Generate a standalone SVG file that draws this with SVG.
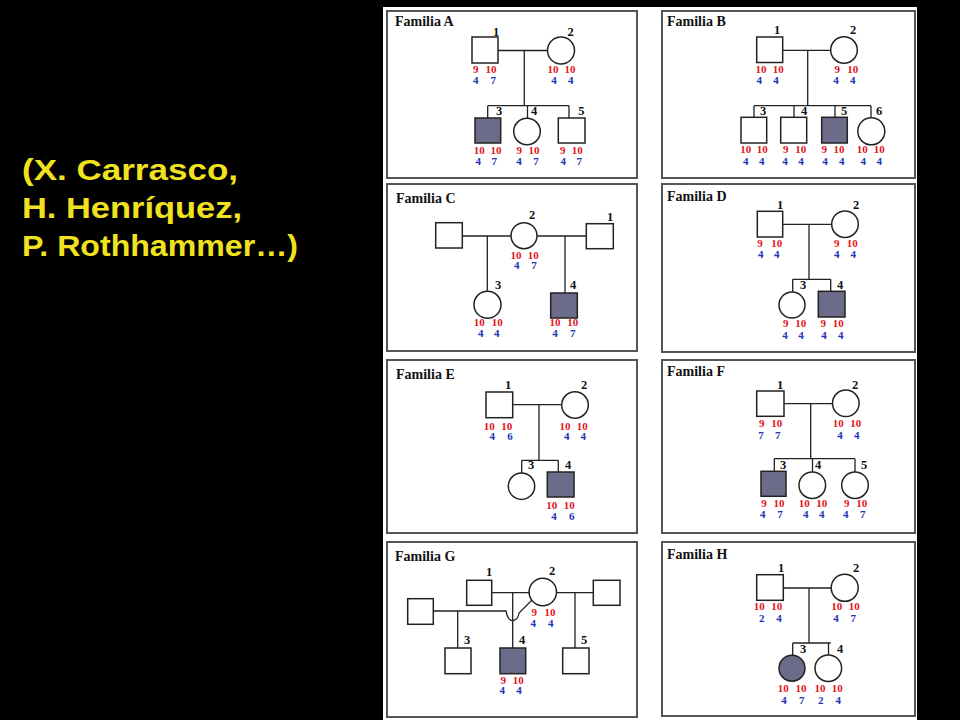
<svg xmlns="http://www.w3.org/2000/svg" width="960" height="720" viewBox="0 0 960 720">
<style>
.panel{fill:#fff;stroke:#555;stroke-width:2}
.ttl{font-family:"Liberation Serif",serif;font-weight:bold;font-size:14px;fill:#111}
.nm{font-family:"Liberation Serif",serif;font-weight:bold;font-size:12.5px;fill:#111;text-anchor:middle}
.r{font-family:"Liberation Serif",serif;font-weight:bold;font-size:11px;fill:#e3131b;text-anchor:middle}
.b{font-family:"Liberation Serif",serif;font-weight:bold;font-size:11px;fill:#2233b5;text-anchor:middle}
.ind{fill:#fff;stroke:#222;stroke-width:1.5}
.aff{fill:#6c6c8a;stroke:#222;stroke-width:1.5}
.ln{stroke:#222;stroke-width:1.3;fill:none}
.auth{font-family:"Liberation Sans",Arial,sans-serif;font-weight:bold;font-size:29px;fill:#f0e21e}
</style>
<rect x="0" y="0" width="960" height="720" fill="#000"/>
<g id="authors">
<text class="auth" x="22" y="180" textLength="216" lengthAdjust="spacingAndGlyphs">(X. Carrasco,</text>
<text class="auth" x="22" y="218" textLength="220" lengthAdjust="spacingAndGlyphs">H. Henríquez,</text>
<text class="auth" x="22" y="256" textLength="276" lengthAdjust="spacingAndGlyphs">P. Rothhammer…)</text>
</g>
<rect x="383" y="7" width="534" height="713" fill="#fff"/>
<g id="panels">
<rect class="panel" x="387" y="11" width="250" height="167"/>
<rect class="panel" x="662" y="11" width="253" height="167"/>
<rect class="panel" x="387" y="184" width="250" height="167"/>
<rect class="panel" x="662" y="184" width="253" height="168"/>
<rect class="panel" x="387" y="360" width="250" height="173"/>
<rect class="panel" x="662" y="360" width="253" height="173"/>
<rect class="panel" x="387" y="542" width="250" height="175"/>
<rect class="panel" x="662" y="542" width="253" height="174"/>
<text class="ttl" x="395" y="26">Familia A</text>
<text class="ttl" x="667" y="26">Familia B</text>
<text class="ttl" x="396" y="202.5">Familia C</text>
<text class="ttl" x="667" y="201">Familia D</text>
<text class="ttl" x="396" y="378.5">Familia E</text>
<text class="ttl" x="667" y="375.5">Familia F</text>
<text class="ttl" x="395" y="561">Familia G</text>
<text class="ttl" x="667" y="558.5">Familia H</text>
</g>
<g id="connectors" class="ln">
<path d="M498,50.5 H547.5 M524.3,50.5 V105.7 M487.7,105.7 H569 M487.7,105.7 V118 M527.5,105.7 V118 M569,105.7 V118"/>
<path d="M782.7,50.3 H830.7 M807.7,50.3 V105.7 M754,105.7 H871 M754,105.7 V117.3 M794,105.7 V117.3 M835,105.7 V117.3 M871,105.7 V117.8"/>
<path d="M462.3,236 H511 M487.3,236 V291.3 M537,236 H586.3 M565,236 V293"/>
<path d="M782.7,224.3 H831.7 M809,224.3 V279.3 M792.7,279.3 H830.7 M792.7,279.3 V292 M830.7,279.3 V291.3"/>
<path d="M512.7,404.7 H561.7 M539,404.7 V460.3 M521.7,460.3 H558.3 M521.7,460.3 V473 M558.3,460.3 V472"/>
<path d="M784,403.7 H832.5 M810.7,403.7 V458.7 M774.3,458.7 H855 M774.3,458.7 V471.3 M812.5,458.7 V472 M855,458.7 V472"/>
<path d="M491.7,592.7 H529.1 M512.7,592.7 V648 M556.5,592.7 H593.3 M575,592.7 V648 M457.7,611 V648"/>
<path d="M433.3,611 H506 Q508,621 513,620.5 Q518,620 519,613 L532,600"/>
<path d="M783.3,588 H831.2 M809,588 V643 M792.7,643 H830.7 M792.7,643 V655.2 M828.5,643 V655"/>
</g>
<g id="A1"><rect class="ind" x="472" y="37" width="26" height="26"/><text class="nm" x="496" y="36">1</text>
<text class="r" x="475.7" y="73">9</text><text class="r" x="491" y="73">10</text><text class="b" x="475.7" y="84">4</text><text class="b" x="493.3" y="84">7</text></g>
<g id="A2"><circle class="ind" cx="561" cy="50.5" r="13.5"/><text class="nm" x="570.5" y="36">2</text>
<text class="r" x="553" y="73">10</text><text class="r" x="570" y="73">10</text><text class="b" x="554" y="84">4</text><text class="b" x="570.7" y="84">4</text></g>
<g id="A3"><rect class="aff" x="475" y="118" width="25.7" height="25"/><text class="nm" x="499.2" y="115">3</text>
<text class="r" x="479.3" y="154">10</text><text class="r" x="496" y="154">10</text><text class="b" x="478.3" y="164.7">4</text><text class="b" x="494.3" y="164.7">7</text></g>
<g id="A4"><circle class="ind" cx="527" cy="131.5" r="13.3"/><text class="nm" x="534.2" y="115">4</text>
<text class="r" x="519.3" y="154">9</text><text class="r" x="534" y="154">10</text><text class="b" x="519" y="164.7">4</text><text class="b" x="536" y="164.7">7</text></g>
<g id="A5"><rect class="ind" x="558.3" y="118" width="26.7" height="25"/><text class="nm" x="581.3" y="115">5</text>
<text class="r" x="562.7" y="154">9</text><text class="r" x="577.3" y="154">10</text><text class="b" x="563.3" y="164.7">4</text><text class="b" x="579.3" y="164.7">7</text></g>
<g id="B1"><rect class="ind" x="756.7" y="37" width="26" height="25.5"/><text class="nm" x="777" y="34">1</text>
<text class="r" x="761" y="73">10</text><text class="r" x="778.3" y="73">10</text><text class="b" x="759.3" y="84">4</text><text class="b" x="776" y="84">4</text></g>
<g id="B2"><circle class="ind" cx="844" cy="50" r="13.3"/><text class="nm" x="853" y="34">2</text>
<text class="r" x="837.3" y="73">9</text><text class="r" x="852.7" y="73">10</text><text class="b" x="836" y="84">4</text><text class="b" x="852.7" y="84">4</text></g>
<g id="B3"><rect class="ind" x="741" y="117.3" width="25.7" height="25.7"/><text class="nm" x="763" y="114.7">3</text>
<text class="r" x="745.7" y="153">10</text><text class="r" x="762.3" y="153">10</text><text class="b" x="745.7" y="164.7">4</text><text class="b" x="761.7" y="164.7">4</text></g>
<g id="B4"><rect class="ind" x="780.7" y="117.3" width="26" height="25.7"/><text class="nm" x="804" y="114.7">4</text>
<text class="r" x="785.7" y="153">9</text><text class="r" x="800.7" y="153">10</text><text class="b" x="785" y="164.7">4</text><text class="b" x="801" y="164.7">4</text></g>
<g id="B5"><rect class="aff" x="821.7" y="117.3" width="25.6" height="25.7"/><text class="nm" x="844" y="114.7">5</text>
<text class="r" x="824.3" y="153">9</text><text class="r" x="839" y="153">10</text><text class="b" x="825" y="164.7">4</text><text class="b" x="841.7" y="164.7">4</text></g>
<g id="B6"><circle class="ind" cx="871.3" cy="131.3" r="13.5"/><text class="nm" x="879" y="114.7">6</text>
<text class="r" x="862.3" y="153">10</text><text class="r" x="879.3" y="153">10</text><text class="b" x="863.3" y="164.7">4</text><text class="b" x="879.3" y="164.7">4</text></g>
<g id="C0a"><rect class="ind" x="435.7" y="222.7" width="26.6" height="25.3"/></g>
<g id="C2"><circle class="ind" cx="524" cy="235.7" r="13"/><text class="nm" x="532" y="219.3">2</text>
<text class="r" x="516" y="258.7">10</text><text class="r" x="533.3" y="258.7">10</text><text class="b" x="516.7" y="269.2">4</text><text class="b" x="534" y="269.2">7</text></g>
<g id="C1"><rect class="ind" x="586.3" y="223.7" width="27" height="25"/><text class="nm" x="610" y="221.3">1</text></g>
<g id="C3"><circle class="ind" cx="487.5" cy="304.7" r="13.5"/><text class="nm" x="498" y="288.7">3</text>
<text class="r" x="479.3" y="326.3">10</text><text class="r" x="497.3" y="326.3">10</text><text class="b" x="480.7" y="337">4</text><text class="b" x="496.7" y="337">4</text></g>
<g id="C4"><rect class="aff" x="550.7" y="293" width="26.6" height="25"/><text class="nm" x="573" y="288.7">4</text>
<text class="r" x="555" y="326.3">10</text><text class="r" x="572.7" y="326.3">10</text><text class="b" x="555" y="337">4</text><text class="b" x="572.7" y="337">7</text></g>
<g id="D1"><rect class="ind" x="757.3" y="211.3" width="25.4" height="25.7"/><text class="nm" x="780" y="208.7">1</text>
<text class="r" x="760" y="247">9</text><text class="r" x="776.7" y="247">10</text><text class="b" x="760.7" y="258">4</text><text class="b" x="776.7" y="258">4</text></g>
<g id="D2"><circle class="ind" cx="845" cy="224.2" r="13.3"/><text class="nm" x="856" y="208.7">2</text>
<text class="r" x="836.7" y="247">9</text><text class="r" x="852.3" y="247">10</text><text class="b" x="836.7" y="258">4</text><text class="b" x="853.3" y="258">4</text></g>
<g id="D3"><circle class="ind" cx="792" cy="305" r="13"/><text class="nm" x="803" y="289.3">3</text>
<text class="r" x="785.7" y="327">9</text><text class="r" x="800.7" y="327">10</text><text class="b" x="785" y="338.7">4</text><text class="b" x="801" y="338.7">4</text></g>
<g id="D4"><rect class="aff" x="818.3" y="291.3" width="26.7" height="25.7"/><text class="nm" x="840" y="289.3">4</text>
<text class="r" x="823.3" y="327">9</text><text class="r" x="838.3" y="327">10</text><text class="b" x="824" y="338.7">4</text><text class="b" x="840.7" y="338.7">4</text></g>
<g id="E1"><rect class="ind" x="486" y="392" width="26.7" height="25.7"/><text class="nm" x="508" y="389.3">1</text>
<text class="r" x="489.3" y="429.7">10</text><text class="r" x="506.7" y="429.7">10</text><text class="b" x="492.3" y="440.3">4</text><text class="b" x="510" y="440.3">6</text></g>
<g id="E2"><circle class="ind" cx="575" cy="405" r="13.3"/><text class="nm" x="584" y="389.3">2</text>
<text class="r" x="565" y="429.7">10</text><text class="r" x="582.3" y="429.7">10</text><text class="b" x="566.7" y="440.3">4</text><text class="b" x="583.3" y="440.3">4</text></g>
<g id="E3"><circle class="ind" cx="521.5" cy="486.2" r="13.2"/><text class="nm" x="531" y="469.3">3</text></g>
<g id="E4"><rect class="aff" x="547.3" y="472" width="26.7" height="25"/><text class="nm" x="568" y="469.3">4</text>
<text class="r" x="551.7" y="508.7">10</text><text class="r" x="569.3" y="508.7">10</text><text class="b" x="554" y="520.3">4</text><text class="b" x="571.7" y="520.3">6</text></g>
<g id="F1"><rect class="ind" x="756.7" y="391" width="27.3" height="25.3"/><text class="nm" x="780" y="388.7">1</text>
<text class="r" x="761.7" y="427">9</text><text class="r" x="776.7" y="427">10</text><text class="b" x="761" y="438.7">7</text><text class="b" x="777.7" y="438.7">7</text></g>
<g id="F2"><circle class="ind" cx="845.8" cy="403.3" r="13.3"/><text class="nm" x="855" y="388.7">2</text>
<text class="r" x="838.3" y="427">10</text><text class="r" x="855.7" y="427">10</text><text class="b" x="840" y="438.7">4</text><text class="b" x="856.7" y="438.7">4</text></g>
<g id="F3"><rect class="aff" x="761" y="471.3" width="25" height="25"/><text class="nm" x="783" y="468.7">3</text>
<text class="r" x="764" y="507">9</text><text class="r" x="779" y="507">10</text><text class="b" x="762.7" y="517.5">4</text><text class="b" x="780" y="517.5">7</text></g>
<g id="F4"><circle class="ind" cx="812.3" cy="485.2" r="13.3"/><text class="nm" x="818" y="468.7">4</text>
<text class="r" x="804.3" y="507">10</text><text class="r" x="821.7" y="507">10</text><text class="b" x="805.7" y="517.5">4</text><text class="b" x="821.7" y="517.5">4</text></g>
<g id="F5"><circle class="ind" cx="855" cy="485.2" r="13.3"/><text class="nm" x="864" y="468.7">5</text>
<text class="r" x="846.7" y="507">9</text><text class="r" x="861.7" y="507">10</text><text class="b" x="845.7" y="517.5">4</text><text class="b" x="862.7" y="517.5">7</text></g>
<g id="G0a"><rect class="ind" x="407.7" y="598.7" width="25.6" height="25.6"/></g>
<g id="G1"><rect class="ind" x="466.7" y="580.3" width="25" height="25"/><text class="nm" x="489" y="576.3">1</text></g>
<g id="G2"><circle class="ind" cx="542.8" cy="592" r="13.7"/><text class="nm" x="552" y="575.3">2</text>
<text class="r" x="534.3" y="616.3">9</text><text class="r" x="550" y="616.3">10</text><text class="b" x="533.3" y="626.8">4</text><text class="b" x="550.7" y="626.8">4</text></g>
<g id="G0b"><rect class="ind" x="593.3" y="580.3" width="26.7" height="25"/></g>
<g id="G3"><rect class="ind" x="445" y="648" width="26" height="25.7"/><text class="nm" x="467" y="644.3">3</text></g>
<g id="G4"><rect class="aff" x="500" y="648" width="25.7" height="25.7"/><text class="nm" x="522" y="644.3">4</text>
<text class="r" x="503.3" y="683.7">9</text><text class="r" x="518.3" y="683.7">10</text><text class="b" x="502.3" y="694.3">4</text><text class="b" x="519" y="694.3">4</text></g>
<g id="G5"><rect class="ind" x="562.7" y="648" width="26.3" height="25.7"/><text class="nm" x="584" y="644.3">5</text></g>
<g id="H1"><rect class="ind" x="756.7" y="574.7" width="26.6" height="25.6"/><text class="nm" x="781" y="572">1</text>
<text class="r" x="759.3" y="610.3">10</text><text class="r" x="776.7" y="610.3">10</text><text class="b" x="761.7" y="622">2</text><text class="b" x="779" y="622">4</text></g>
<g id="H2"><circle class="ind" cx="844.7" cy="587.8" r="13.5"/><text class="nm" x="856" y="572">2</text>
<text class="r" x="836.7" y="610.3">10</text><text class="r" x="854.3" y="610.3">10</text><text class="b" x="836" y="622">4</text><text class="b" x="853.3" y="622">7</text></g>
<g id="H3"><circle class="aff" cx="792" cy="668.2" r="13"/><text class="nm" x="803" y="653">3</text>
<text class="r" x="783.3" y="692">10</text><text class="r" x="801" y="692">10</text><text class="b" x="784" y="703.7">4</text><text class="b" x="801.7" y="703.7">7</text></g>
<g id="H4"><circle class="ind" cx="828.3" cy="668.2" r="13.3"/><text class="nm" x="840" y="653">4</text>
<text class="r" x="820" y="692">10</text><text class="r" x="837.3" y="692">10</text><text class="b" x="820.7" y="703.7">2</text><text class="b" x="838.3" y="703.7">4</text></g>
</svg>
